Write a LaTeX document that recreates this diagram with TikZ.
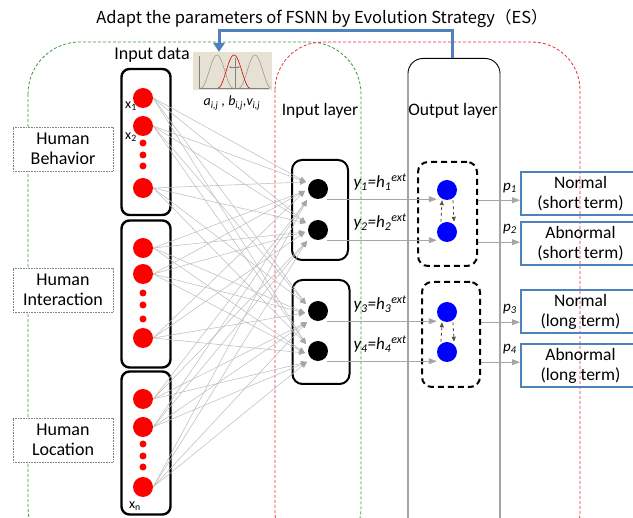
\documentclass[tikz,border=0pt]{standalone}
\usepackage{fontspec}
\setmainfont{Carlito}
\newfontfamily\cjk{Noto Sans CJK JP}
\usetikzlibrary{arrows.meta,calc}
\definecolor{obl}{HTML}{4F81BD}
\definecolor{beige}{HTML}{E6E1D3}
\definecolor{dgrn}{HTML}{3A9A3A}
\definecolor{dred}{HTML}{E03030}
\definecolor{olive}{HTML}{5A5040}
\tikzset{
  rc/.style={circle,fill=red,minimum size=20pt,inner sep=0pt},
  rd/.style={circle,fill=red,minimum size=7pt,inner sep=0pt},
  bc/.style={circle,fill=black,minimum size=20pt,inner sep=0pt},
  uc/.style={circle,fill=blue,minimum size=20pt,inner sep=0pt},
  inbox/.style={draw,line width=2.4pt,rounded corners=8pt,minimum width=49pt},
  laybox/.style={draw,line width=2pt,rounded corners=10pt},
  dbox/.style={draw,line width=2pt,dash pattern=on 6pt off 4pt,rounded corners=10pt},
  hbox/.style={draw=gray,densely dotted,line width=0.6pt,minimum width=100pt,minimum height=44pt,inner sep=1pt,align=center,font=\fontsize{18}{20.5}\selectfont},
  obox/.style={draw=obl,line width=2pt,minimum width=119pt,minimum height=43pt,inner sep=1pt,align=center,font=\fontsize{17.5}{20}\selectfont},
  conn/.style={draw=gray!50,line width=0.55pt,-{Triangle[length=6pt,width=5pt,color=gray!70,fill=gray!70]}},
  harr/.style={draw=gray!70,line width=0.8pt,-{Triangle[length=8pt,width=6pt,fill=gray!70]}},
  darr/.style={draw=olive,line width=0.8pt,dashed,-{Triangle[length=5pt,width=4pt]}},
  lab/.style={font=\fontsize{17}{19}\selectfont\itshape,inner sep=0pt},
  plab/.style={font=\fontsize{15}{17}\selectfont\itshape,inner sep=0pt},
  xlab/.style={font=\fontsize{14}{16}\selectfont,inner sep=0pt}
}
\begin{document}
\begin{tikzpicture}[x=1pt,y=-1pt]
\useasboundingbox (0,0) rectangle (633,518);
\clip (0,0) rectangle (633,518);

% dashed regions
\draw[dgrn,densely dashed,line width=0.8pt,rounded corners=52pt] (28,42) rectangle (361,560);
\draw[dred,densely dashed,line width=0.8pt,rounded corners=48pt] (275,42) rectangle (580,560);

% title
\node[font=\cjk\fontsize{16.5}{19}\selectfont] (title) at (322,19) {Adapt the parameters of FSNN by Evolution Strategy（ES）};

% output layer box
\node[draw,line width=0.9pt,rounded corners=15pt,minimum width=92pt,minimum height=480pt,anchor=north] (OL) at (454,58) {};
\node[font=\fontsize{17.5}{20}\selectfont] (oltxt) at (453,111) {Output layer};
\node[font=\fontsize{17.5}{20}\selectfont] (iltxt) at (320,111) {Input layer};

% membership-function picture
\node[fill=beige,minimum width=79pt,minimum height=38pt,inner sep=0pt,anchor=north west] (G) at (193,52) {};
\draw[gray,line width=0.5pt] (199,56) -- (199,88) -- (269,88);
\draw[gray!80,line width=0.6pt] plot[domain=-16:16,samples=31] ({217+\x},{88-33*(cos(\x*90/16))^2});
\draw[gray!80,line width=0.6pt] plot[domain=-16:16,samples=31] ({255+\x},{88-33*(cos(\x*90/16))^2});
\draw[red!80!black,line width=0.6pt] plot[domain=-16:16,samples=31] ({234+\x},{88-33*(cos(\x*90/16))^2});
\draw[gray,line width=0.4pt] (235,58) -- (235,88);
\draw[gray,line width=0.4pt,<->,>={Stealth[length=2pt]}] (229,67) -- (240,67);
\node[xlab,font=\fontsize{14}{16}\selectfont\itshape] (glab) at (232,103) {a\textsubscript{i,j} , b\textsubscript{i,j},v\textsubscript{i,j}};

% blue feedback arrow
\draw[obl,line width=3pt,-{Triangle[length=9pt,width=11pt]}] ([xshift=-2pt]OL.north) -- (452,31) -- (219,31) -- ([xshift=26pt]G.north west);

% input data
\node[font=\fontsize{18}{20}\selectfont] (indata) at (152,55) {Input data};
\node[inbox,minimum height=146pt] (ib1) at (146,142) {};
\node[inbox,minimum height=147pt] (ib2) at (146,294) {};
\node[inbox,minimum height=143pt] (ib3) at (146,443) {};

\node[rc] (r1) at (143,98) {};
\node[rc] (r2) at (143,126) {};
\node[rd] (d1) at (143,143) {};
\node[rd] (d2) at (143,155) {};
\node[rd] (d3) at (143,166) {};
\node[rc] (r3) at (143,188) {};
\node[rc] (r4) at (143,248) {};
\node[rc] (r5) at (143,274) {};
\node[rd] (d4) at (143,293) {};
\node[rd] (d5) at (143,305) {};
\node[rd] (d6) at (143,319) {};
\node[rc] (r6) at (143,338) {};
\node[rc] (r7) at (143,399) {};
\node[rc] (r8) at (143,427) {};
\node[rd] (d7) at (143,444) {};
\node[rd] (d8) at (143,456) {};
\node[rd] (d9) at (143,467) {};
\node[rc] (r9) at (143,487) {};
\node[xlab] (x1) at (131,106) {x\textsubscript{1}};
\node[xlab] (x2) at (131,137) {x\textsubscript{2}};
\node[xlab] (xn) at (135,506) {x\textsubscript{n}};

% human boxes
\node[hbox,fill=white] (hb) at (63,149) {Human\\Behavior};
\node[hbox,fill=white] (hi) at (63,290) {Human\\Interaction};
\node[hbox,fill=white] (hl) at (63,440) {Human\\Location};

% input layer
\node[laybox,minimum width=56pt,minimum height=100pt] (L1) at (320,210) {};
\node[laybox,minimum width=57pt,minimum height=104pt] (L2) at (321,332) {};
\node[bc] (b1) at (318,189) {};
\node[bc] (b2) at (318,230) {};
\node[bc] (b3) at (318,311) {};
\node[bc] (b4) at (318,351) {};
\foreach \b in {1,2,3,4}{
  \coordinate (t\b a) at ($(b\b)+(-12,-7)$);
  \coordinate (t\b b) at ($(b\b)+(-13,2)$);
  \coordinate (t\b c) at ($(b\b)+(-11,11)$);
}
\foreach \b in {1,2,3,4}{
  \foreach \r in {1,2,3}{ \draw[conn] (r\r.east) -- (t\b a); }
  \foreach \r in {4,5,6}{ \draw[conn] (r\r.east) -- (t\b b); }
  \foreach \r in {7,8,9}{ \draw[conn] (r\r.east) -- (t\b c); }
}

% output layer nodes
\node[dbox,minimum width=59pt,minimum height=104pt] (D1) at (447.5,214) {};
\node[dbox,minimum width=58pt,minimum height=105pt] (D2) at (451,334.5) {};
\node[uc] (u1) at (447,190) {};
\node[uc] (u2) at (447,232) {};
\node[uc] (u3) at (447,312) {};
\node[uc] (u4) at (447,352) {};
\draw[darr] ([xshift=-6pt]u2.north) -- ([xshift=-5pt]u1.south);
\draw[darr] ([xshift=6pt]u1.south) -- ([xshift=7pt]u2.north);
\draw[darr] ([xshift=-6pt]u4.north) -- ([xshift=-5pt]u3.south);
\draw[darr] ([xshift=6pt]u3.south) -- ([xshift=7pt]u4.north);

% hidden to output arrows
\foreach \i in {1,2,3,4}{
  \draw[harr] ([xshift=9pt]b\i.south) -- (b\i.south -| u\i.west);
}
\node[lab] (y1) at (380,182) {y\textsubscript{1}=h\textsubscript{1}\textsuperscript{ext}};
\node[lab] (y2) at (380,222) {y\textsubscript{2}=h\textsubscript{2}\textsuperscript{ext}};
\node[lab] (y3) at (380,304) {y\textsubscript{3}=h\textsubscript{3}\textsuperscript{ext}};
\node[lab] (y4) at (380,344) {y\textsubscript{4}=h\textsubscript{4}\textsuperscript{ext}};

% output boxes
\node[obox] (o1) at (580.5,193.5) {Normal\\(short term)};
\node[obox] (o2) at (580.5,243.5) {Abnormal\\(short term)};
\node[obox] (o3) at (580.5,312) {Normal\\(long term)};
\node[obox] (o4) at (580.5,365.5) {Abnormal\\(long term)};
\draw[harr] (D1.east |- u1.south) -- (o1.west |- u1.south);
\draw[harr] (D1.east |- u2.south) -- (o2.west |- u2.south);
\draw[harr] (D2.east |- u3.south) -- (o3.west |- u3.south);
\draw[harr] (D2.east |- u4.south) -- (o4.west |- u4.south);
\node[plab] (p1) at (510,188) {p\textsubscript{1}};
\node[plab] (p2) at (510,229) {p\textsubscript{2}};
\node[plab] (p3) at (510,309) {p\textsubscript{3}};
\node[plab] (p4) at (510,349) {p\textsubscript{4}};
\end{tikzpicture}
\end{document}
